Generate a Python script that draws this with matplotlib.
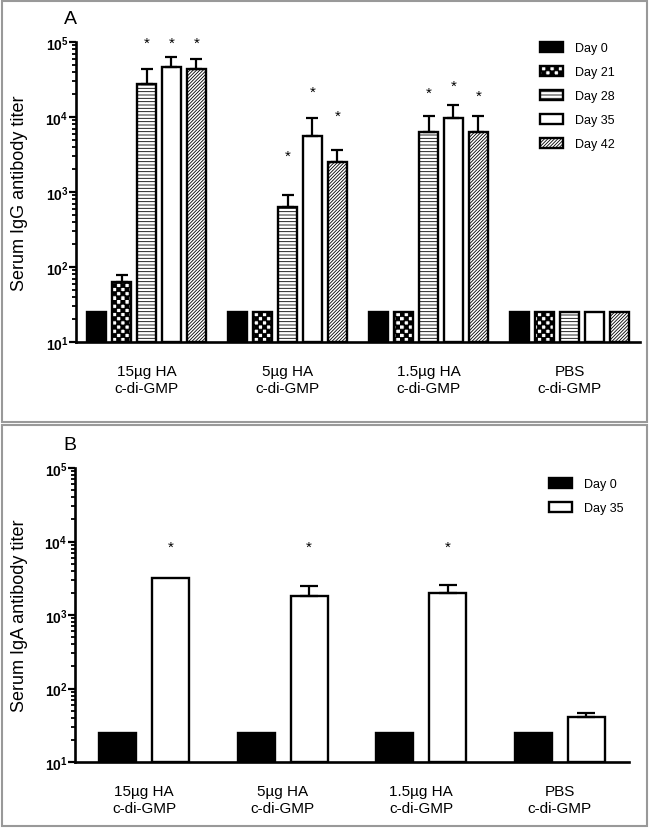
import warnings
import numpy as np
import matplotlib
matplotlib.use('Agg')
from matplotlib import pyplot as plt
from matplotlib import hatch as mhatch
from matplotlib.path import Path
from matplotlib.patches import Rectangle

warnings.filterwarnings('ignore')

nan = np.nan
groups = ['15µg HA\nc-di-GMP', '5µg HA\nc-di-GMP', '1.5µg HA\nc-di-GMP', 'PBS\nc-di-GMP']

# panel A - serum IgG titer per group, upper error and star height (nan = none)
igg_days = ['Day 0', 'Day 21', 'Day 28', 'Day 35', 'Day 42']
igg_day0 = [25, 25, 25, 25]
igg_day21 = [63, 25, 25, 25]
igg_day28 = [27500, 640, 6300, 25]
igg_day35 = [47000, 5600, 9600, 25]
igg_day42 = [43500, 2500, 6300, 25]
igg_err0 = [0, 0, 0, 0]
igg_err21 = [15, 0, 0, 0]
igg_err28 = [15500, 270, 4000, 0]
igg_err35 = [16000, 4000, 4900, 0]
igg_err42 = [16500, 1130, 4000, 0]
igg_star0 = [nan, nan, nan, nan]
igg_star21 = [nan, nan, nan, nan]
igg_star28 = [97000, 3000, 21000, nan]
igg_star35 = [97000, 22000, 26000, nan]
igg_star42 = [97000, 10300, 19000, nan]

# panel B - serum IgA titer
iga_days = ['Day 0', 'Day 35']
iga_day0 = [25, 25, 25, 25]
iga_day35 = [3160, 1840, 2000, 41]
iga_err0 = [0, 0, 0, 0]
iga_err35 = [0, 620, 570, 4.7]
iga_star0 = [nan, nan, nan, nan]
iga_star35 = [8500, 8500, 8500, nan]


class CheckerHatch(mhatch.HatchPatternBase):
    # filled checkerboard, 'c' gives density cells per side
    def __init__(self, hatch, density):
        self.num_cells = hatch.count('c') * density
        self.num_vertices = self.num_cells ** 2 // 2 * 5

    def set_vertices_and_codes(self, vertices, codes):
        step = 1.0 / self.num_cells
        k = 0
        for i in range(self.num_cells):
            for j in range(self.num_cells):
                if (i + j) % 2:
                    continue
                x0, y0 = j * step, i * step
                vertices[k:k + 5] = [(x0, y0), (x0 + step, y0), (x0 + step, y0 + step),
                                     (x0, y0 + step), (x0, y0)]
                codes[k:k + 5] = [Path.MOVETO, Path.LINETO, Path.LINETO, Path.LINETO, Path.CLOSEPOLY]
                k += 5


mhatch._hatch_types.append(CheckerHatch)

plt.rcParams['font.family'] = ['Liberation Sans', 'DejaVu Sans']
plt.rcParams['mathtext.fontset'] = 'custom'
plt.rcParams['mathtext.rm'] = 'Liberation Sans'
plt.rcParams['mathtext.bf'] = 'Liberation Sans:bold'
plt.rcParams['hatch.linewidth'] = 0.6


def draw_panel(ax, values, errors, stars, labels, styles, pitch, width, capsize, ylabel):
    x = np.arange(len(groups))
    n = len(values)
    bars = []
    for i in range(n):
        xi = x + (i - (n - 1) / 2) * pitch
        vals = np.array(values[i], dtype=float)
        b = ax.bar(xi, vals - 10, width, bottom=10, edgecolor='black', linewidth=1.7,
                   label=labels[i], zorder=2, **styles[i])
        bars.append(b)
        err = np.array(errors[i], dtype=float)
        m = err > 0
        if m.any():
            ax.errorbar(xi[m], vals[m], yerr=[np.zeros(m.sum()), err[m]], fmt='none',
                        ecolor='black', elinewidth=1.6, capsize=capsize, capthick=1.6, zorder=3)
        st = np.array(stars[i], dtype=float)
        for xs, ys in zip(xi, st):
            if not np.isnan(ys):
                ax.text(xs, ys, '*', ha='center', va='center', fontsize=11)

    ax.set_yscale('log')
    ax.set_ylim(10, 1e5)
    ax.set_xlim(-0.5, 3.5)
    ax.set_yticks([1e1, 1e2, 1e3, 1e4, 1e5])
    ax.set_yticklabels([r'$\mathbf{10^{%d}}$' % k for k in range(1, 6)])
    ax.set_xticks(x)
    ax.set_xticklabels(groups, fontsize=11, linespacing=1.25)
    ax.tick_params(axis='x', length=0, pad=16)
    ax.tick_params(axis='y', which='major', length=5, width=1.6, pad=0.5, labelsize=10)
    ax.tick_params(axis='y', which='minor', length=3, width=1.3)
    for s in ['top', 'right']:
        ax.spines[s].set_visible(False)
    for s in ['left', 'bottom']:
        ax.spines[s].set_linewidth(1.9)
    ax.set_ylabel(ylabel, fontsize=13)
    ax.yaxis.set_label_coords(-0.085, 0.5)
    return bars


fig = plt.figure(figsize=(6.5, 8.29), dpi=100)

# gray frames around the two panels
fig.add_artist(Rectangle((2 / 650, 1 - 423 / 829), 645 / 650, 421 / 829, transform=fig.transFigure,
                         fill=False, edgecolor='#999999', linewidth=1.5))
fig.add_artist(Rectangle((2 / 650, 2 / 829), 645 / 650, 401 / 829, transform=fig.transFigure,
                         fill=False, edgecolor='#999999', linewidth=1.5))

axA = fig.add_axes([76 / 650, 1 - 343 / 829, 564 / 650, 300 / 829])
styles_a = [dict(facecolor='black'), dict(facecolor='white', hatch='cccc'),
            dict(facecolor='white', hatch='-----'), dict(facecolor='white'),
            dict(facecolor='white', hatch='//////////')]
draw_panel(axA, [igg_day0, igg_day21, igg_day28, igg_day35, igg_day42],
           [igg_err0, igg_err21, igg_err28, igg_err35, igg_err42],
           [igg_star0, igg_star21, igg_star28, igg_star35, igg_star42],
           igg_days, styles_a, 0.177, 0.135, 4.5, 'Serum IgG antibody titer')
axA.legend(loc='upper left', bbox_to_anchor=(0.823, 1.0), frameon=False, fontsize=9,
           handlelength=1.85, handleheight=0.8, handletextpad=0.95, labelspacing=0.95,
           borderpad=0, borderaxespad=0)

axB = fig.add_axes([75 / 650, 1 - 763 / 829, 554 / 650, 294 / 829])
styles_b = [dict(facecolor='black'), dict(facecolor='white')]
draw_panel(axB, [iga_day0, iga_day35], [iga_err0, iga_err35], [iga_star0, iga_star35],
           iga_days, styles_b, 0.382, 0.267, 6.5, 'Serum IgA antibody titer')
axB.legend(loc='upper left', bbox_to_anchor=(0.856, 0.965), frameon=False, fontsize=9,
           handlelength=1.85, handleheight=0.8, handletextpad=0.95, labelspacing=0.95,
           borderpad=0, borderaxespad=0)

fig.text(70 / 650, 1 - 20 / 829, 'A', fontsize=14, ha='center', va='center')
fig.text(70 / 650, 1 - 446 / 829, 'B', fontsize=14, ha='center', va='center')

fig.savefig('out.png', dpi=100)
